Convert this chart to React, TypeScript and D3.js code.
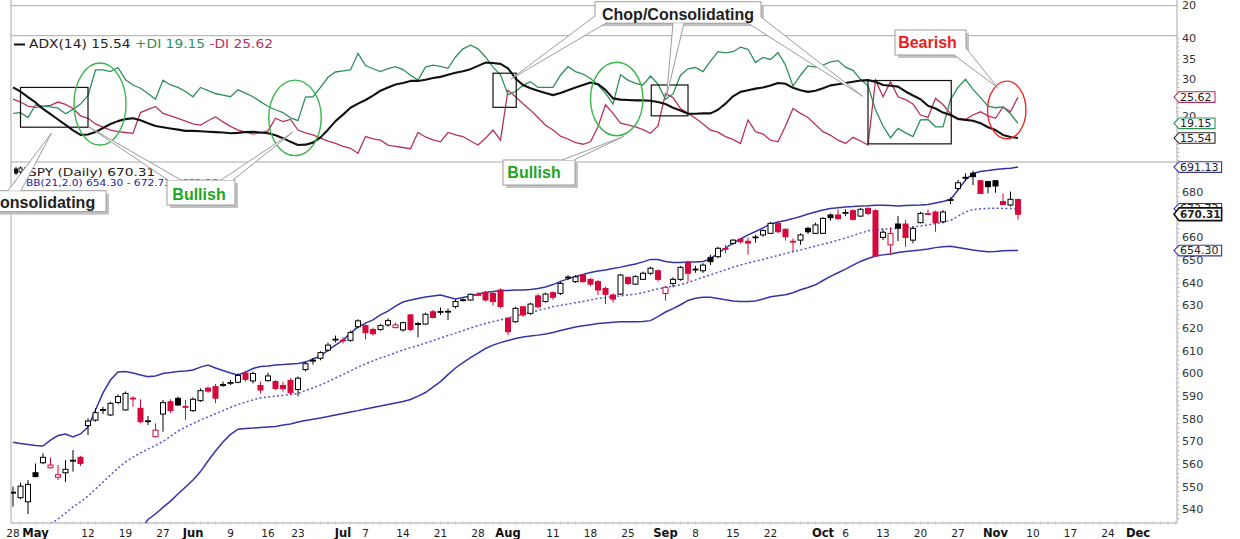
import React from 'react';
import * as d3 from 'd3';

const WIDTH = 1240;
const HEIGHT = 539;

const PLOT_LEFT = 11;
const PLOT_RIGHT = 1177;
const TOP_LINE = 5.7;
const ADX_TOP = 35.7;
const PANEL_SPLIT = 162;
const PRICE_BOTTOM = 523;

const RED = '#d4083a';
const BAND = '#3434a8';
const GRID = '#a8a8a8';
const PLUS_COL = '#2f8f5b';
const MINUS_COL = '#b8325c';

// SPY daily candles, Apr 28 - Nov 6 (as plotted, dividend adjusted)
const opens = [
  547.3, 545.3, 543.5, 556.3, 560.7, 558.5, 554.3, 556.3, 561.4, 563.1,
  577.1, 579.5, 583.8, 581.8, 587.3, 584.0, 589.0, 584.7, 579.0, 572.2,
  582.2, 587.6, 589.1, 585.3, 583.7, 588.1, 593.6, 594.3, 594.8, 595.8,
  596.2, 600.3, 596.8, 594.8, 596.9, 596.5, 594.8, 597.0, 593.0, 601.8,
  605.6, 606.8, 610.4, 614.9, 614.5, 614.7, 620.7, 621.2, 619.5, 619.5,
  621.5, 620.3, 619.3, 625.9, 621.7, 621.9, 627.3, 627.1, 627.3, 629.6,
  632.3, 632.5, 634.7, 635.9, 635.4, 636.9, 624.4, 622.9, 629.5, 626.6,
  634.3, 631.8, 635.7, 635.4, 642.3, 640.6, 643.5, 641.6, 640.6, 637.6,
  634.7, 635.1, 642.5, 639.5, 641.6, 644.3, 645.4, 635.4, 639.8, 641.6,
  648.9, 645.8, 645.4, 651.3, 651.6, 655.0, 657.5, 659.3, 658.4, 660.0,
  661.2, 661.9, 666.3, 663.7, 658.4, 658.9, 664.1, 661.9, 661.9, 670.0,
  670.0, 670.8, 671.9, 669.5, 672.9, 671.9, 660.1, 656.8, 666.0, 666.0,
  658.9, 666.6, 670.3, 671.3, 667.0, 676.4, 681.7, 686.2, 688.4, 685.1,
  684.7, 685.1, 675.9, 674.4, 676.8,
];
const highs = [
  550.2, 551.9, 553.1, 560.4, 564.9, 563.1, 559.7, 561.9, 566.3, 563.7,
  580.3, 584.7, 585.4, 587.6, 590.9, 592.1, 590.1, 588.7, 581.3, 578.1,
  588.4, 588.7, 589.9, 588.4, 589.6, 593.5, 594.4, 595.5, 596.5, 597.2,
  600.1, 601.3, 600.9, 596.5, 600.4, 597.2, 596.5, 598.0, 598.8, 605.3,
  606.8, 609.9, 613.7, 616.8, 616.1, 619.0, 624.0, 621.7, 620.3, 621.9,
  624.4, 622.5, 622.9, 626.3, 622.9, 626.9, 628.1, 629.2, 628.8, 632.8,
  633.2, 635.4, 636.0, 636.5, 636.0, 637.6, 625.1, 629.5, 629.8, 631.3,
  635.4, 635.7, 636.3, 640.6, 643.5, 643.5, 644.0, 642.0, 641.3, 638.4,
  635.4, 644.0, 642.8, 643.5, 645.0, 647.2, 646.0, 638.7, 642.5, 647.5,
  649.8, 647.5, 648.7, 652.4, 656.0, 656.8, 659.3, 659.7, 660.1, 661.2,
  663.7, 667.0, 667.0, 664.1, 659.7, 661.9, 664.8, 666.6, 669.0, 670.7,
  672.5, 672.5, 672.5, 673.0, 673.4, 672.5, 663.6, 664.5, 669.5, 667.8,
  664.8, 671.4, 672.4, 671.9, 672.2, 677.8, 685.4, 688.4, 689.5, 685.4,
  685.1, 685.4, 679.5, 680.3, 677.3,
];
const lows = [
  541.3, 544.6, 538.1, 554.3, 560.1, 558.2, 553.1, 552.3, 556.8, 559.3,
  572.9, 578.8, 582.2, 581.3, 586.6, 583.7, 585.4, 578.1, 577.3, 571.9,
  574.4, 582.8, 585.7, 579.6, 583.2, 587.6, 591.5, 587.0, 594.2, 595.0,
  595.7, 596.5, 595.7, 591.3, 596.5, 592.8, 592.1, 590.6, 590.0, 601.0,
  604.0, 605.9, 609.7, 613.8, 613.3, 614.1, 620.0, 615.1, 616.8, 618.9,
  620.7, 620.0, 618.5, 618.9, 616.0, 621.5, 624.4, 625.9, 623.7, 628.8,
  631.8, 632.2, 634.2, 631.8, 630.0, 628.8, 617.0, 622.5, 625.1, 625.9,
  628.8, 631.3, 632.5, 634.7, 641.3, 640.0, 640.1, 638.6, 634.7, 630.7,
  631.3, 634.7, 639.1, 639.1, 641.3, 643.5, 640.6, 632.2, 638.1, 641.0,
  640.6, 644.5, 644.5, 647.9, 650.9, 653.1, 656.8, 657.4, 652.5, 657.8,
  660.4, 661.6, 661.9, 658.7, 653.8, 656.8, 661.6, 661.6, 661.6, 667.5,
  667.8, 669.5, 667.5, 669.2, 670.0, 651.6, 658.9, 652.5, 658.5, 656.0,
  657.5, 666.3, 670.2, 662.6, 666.3, 674.8, 681.0, 685.1, 683.2, 679.2,
  679.5, 679.8, 674.4, 673.7, 667.9,
];
const closes = [
  547.7, 550.4, 551.2, 554.6, 563.1, 559.7, 555.4, 557.8, 561.8, 560.4,
  579.1, 582.8, 584.2, 586.9, 589.9, 591.3, 589.2, 578.8, 579.2, 575.1,
  587.2, 583.7, 586.2, 585.5, 588.7, 592.5, 592.3, 589.2, 595.2, 596.1,
  599.2, 597.5, 600.1, 592.8, 599.0, 593.5, 593.4, 591.6, 598.0, 604.4,
  605.9, 609.3, 612.6, 615.2, 614.8, 618.1, 623.3, 618.1, 617.6, 621.2,
  623.4, 621.5, 622.5, 619.5, 622.1, 626.2, 624.8, 627.4, 627.5, 631.8,
  632.6, 635.0, 634.9, 632.5, 631.8, 629.6, 618.5, 628.8, 625.9, 630.7,
  629.5, 635.1, 633.7, 639.8, 642.6, 642.7, 640.6, 639.5, 636.9, 635.0,
  632.9, 643.5, 639.8, 642.8, 644.3, 646.5, 641.6, 638.1, 641.6, 646.9,
  644.3, 646.1, 647.9, 649.4, 655.3, 655.2, 658.9, 658.2, 657.6, 660.3,
  663.1, 666.3, 662.6, 660.4, 658.1, 661.2, 662.6, 665.6, 668.5, 668.8,
  668.4, 671.1, 668.1, 672.5, 670.7, 651.9, 662.4, 661.9, 664.2, 660.1,
  664.1, 670.7, 670.6, 666.6, 671.3, 676.8, 684.2, 686.6, 686.9, 679.5,
  682.5, 682.8, 674.6, 676.9, 670.31,
];
const prevClose = 547.0;

// Bollinger Bands (21, 2.0)
const bbUpper = [
  569.7, 569.2, 568.8, 568.3, 568.1, 570.7, 572.7, 573.4, 572.1, 573.4,
  576.5, 584.0, 591.5, 597.2, 600.7, 601.0, 600.3, 599.4, 598.7, 599.0,
  600.1, 600.5, 601.0, 601.2, 601.6, 602.9, 603.8, 602.5, 601.4, 600.3,
  599.4, 600.7, 602.3, 603.2, 603.4, 603.8, 604.0, 604.3, 604.5, 605.1,
  606.5, 607.8, 610.4, 612.6, 614.8, 617.9, 620.6, 622.3, 623.7, 625.9,
  627.6, 629.8, 631.6, 632.5, 633.2, 633.8, 634.3, 634.7, 633.8, 632.9,
  633.6, 634.3, 635.1, 635.8, 636.2, 636.7, 636.7, 636.9, 636.9, 637.1,
  637.6, 638.2, 639.3, 640.7, 641.8, 642.9, 643.7, 644.6, 645.3, 645.7,
  646.4, 647.0, 647.7, 648.4, 649.3, 650.4, 650.4, 649.5, 649.0, 649.0,
  649.3, 649.3, 649.5, 650.6, 653.2, 655.4, 657.6, 659.4, 661.2, 662.7,
  664.3, 666.0, 666.9, 667.6, 668.4, 669.3, 670.4, 671.3, 672.2, 672.9,
  673.2, 673.5, 673.7, 674.0, 674.1, 674.3, 674.3, 674.2, 674.0, 674.2,
  674.3, 674.4, 674.6, 675.3, 675.9, 676.8, 681.0, 685.4, 688.3, 689.2,
  689.6, 690.1, 690.4, 690.6, 691.13,
];
const bbMid = [
  520.4, 523.1, 525.7, 528.4, 531.0, 533.7, 535.9, 538.5, 541.2, 543.4,
  546.0, 549.1, 552.2, 555.3, 558.4, 561.0, 563.2, 565.0, 566.8, 568.3,
  570.1, 572.3, 574.7, 576.5, 578.0, 579.6, 580.9, 582.4, 583.7, 585.1,
  586.4, 587.5, 588.4, 589.3, 589.7, 590.1, 590.4, 590.8, 591.2, 592.6,
  593.7, 595.0, 596.5, 598.1, 599.6, 601.2, 602.9, 604.3, 605.6, 606.9,
  608.0, 609.3, 610.4, 611.5, 612.4, 613.5, 614.6, 615.7, 616.8, 617.9,
  619.0, 620.1, 621.2, 622.1, 623.0, 623.7, 624.6, 625.4, 626.3, 627.0,
  627.9, 628.7, 629.6, 630.1, 630.7, 631.3, 631.8, 632.5, 633.2, 633.6,
  633.9, 634.3, 634.7, 635.1, 635.7, 636.6, 637.4, 638.0, 638.6, 639.2,
  640.2, 641.3, 642.5, 643.6, 644.7, 645.8, 647.0, 647.9, 648.8, 649.6,
  650.4, 651.3, 652.1, 653.0, 653.8, 654.6, 655.4, 656.3, 657.1, 657.9,
  658.9, 659.9, 660.9, 662.0, 663.0, 663.5, 663.8, 663.9, 664.1, 664.4,
  664.8, 665.1, 665.6, 666.2, 666.8, 667.6, 669.5, 671.3, 672.4, 672.7,
  672.9, 673.0, 672.9, 672.8, 672.73,
];
const bbLower = [
  471.0, 477.0, 483.0, 488.5, 494.0, 497.0, 499.0, 503.5, 510.0, 513.5,
  515.5, 514.0, 513.0, 513.5, 516.0, 521.0, 526.0, 531.0,
  535.7, 538.1, 541.0, 543.8, 546.9, 550.0, 553.1, 556.8, 561.5, 565.9,
  569.9, 573.2, 575.5, 575.8, 576.0, 576.3, 576.5, 576.7, 577.4, 577.8,
  578.7, 579.3, 579.9, 580.4, 581.1, 581.8, 582.4, 583.1, 583.7, 584.4,
  585.1, 585.7, 586.4, 587.1, 587.7, 588.6, 590.1, 591.7, 594.1, 596.5,
  599.6, 602.5, 604.9, 607.1, 609.1, 611.1, 612.6, 613.7, 614.6, 615.5,
  616.2, 616.6, 617.0, 617.5, 618.2, 619.0, 619.8, 620.6, 621.1, 621.6,
  622.1, 622.4, 622.7, 622.9, 622.9, 622.9, 623.0, 623.4, 625.2, 627.2,
  628.7, 630.4, 632.3, 633.3, 633.7, 633.7, 633.2, 632.6, 632.1, 631.8,
  631.8, 632.1, 632.9, 633.9, 634.4, 634.8, 635.7, 637.0, 638.0, 639.2,
  641.1, 642.9, 644.5, 646.1, 647.9, 649.5, 650.8, 651.9, 652.4, 652.8,
  653.4, 653.9, 654.2, 654.5, 655.0, 655.6, 656.0, 656.2, 655.7, 655.1,
  654.5, 654.1, 653.8, 653.9, 654.2, 654.3, 654.30,
];

// ADX(14) with +DI / -DI
const adx = [
  28.0, 27.0, 25.6, 24.3, 22.7, 21.4, 20.1, 18.8, 17.4, 16.3,
  16.4, 17.0, 18.0, 19.0, 19.7, 20.2, 20.4, 19.9, 19.2, 18.5,
  18.2, 17.9, 17.6, 17.3, 17.3, 17.2, 17.1, 17.0, 16.9, 16.7,
  16.8, 17.0, 17.1, 16.9, 16.7, 16.2, 15.5, 14.6, 13.8, 13.9,
  14.4, 15.7, 17.6, 19.7, 21.3, 23.0, 24.0, 24.9, 26.0, 27.2,
  28.0, 28.7, 29.1, 29.6, 29.6, 29.9, 30.3, 30.6, 31.1, 31.6,
  32.0, 32.5, 33.3, 34.1, 34.0, 33.8, 32.7, 30.2, 28.6, 27.8,
  27.2, 26.6, 26.1, 26.6, 27.3, 28.0, 28.6, 29.2, 28.8, 27.4,
  25.3, 25.0, 24.9, 24.8, 24.8, 24.7, 24.4, 23.9, 23.0, 22.3,
  21.5, 21.5, 21.6, 21.6, 22.5, 24.0, 25.8, 26.9, 27.3, 27.7,
  28.0, 28.5, 29.1, 28.9, 27.9, 27.3, 26.9, 27.2, 27.8, 28.5,
  28.8, 29.1, 29.4, 29.7, 29.8, 29.4, 28.6, 28.4, 28.2, 27.0,
  26.0, 25.1, 23.5, 22.8, 21.8, 21.2, 20.3, 20.0, 19.8, 19.2,
  18.2, 17.5, 16.3, 15.8, 15.54,
];
const plusDI = [
  21.6, 21.8, 20.6, 23.7, 23.4, 23.2, 22.9, 21.5, 22.6, 23.9,
  26.0, 32.3, 32.3, 31.9, 32.9, 29.9, 28.6, 27.8, 26.5, 25.1,
  29.8, 28.6, 28.0, 27.0, 25.7, 28.0, 27.2, 26.5, 26.1, 25.7,
  27.4, 26.6, 25.7, 24.5, 23.3, 22.5, 21.8, 20.5, 19.8, 25.6,
  25.7, 28.0, 30.5, 31.8, 32.1, 32.3, 36.4, 33.4, 32.6, 31.9,
  32.6, 33.1, 32.4, 31.0, 29.8, 33.0, 33.5, 33.2, 32.7, 35.5,
  37.5, 38.4, 37.5, 35.5, 33.0, 31.1, 26.2, 27.0, 28.5, 29.4,
  28.0, 28.0, 28.0, 31.0, 33.1, 31.9, 31.3, 30.2, 28.6, 26.6,
  23.9, 31.1, 29.8, 29.0, 28.6, 30.8, 28.8, 25.1, 26.4, 31.0,
  32.6, 32.9, 31.9, 34.5, 36.8, 36.5, 36.8, 37.9, 37.4, 34.1,
  35.4, 34.9, 36.6, 33.5, 28.3, 31.0, 33.3, 33.0, 33.5, 34.3,
  34.6, 33.0, 32.2, 30.0, 28.4, 22.5, 18.5, 15.6, 17.9, 16.8,
  15.9, 20.0, 20.1, 18.3, 18.3, 25.0, 28.0, 30.0, 27.5, 25.5,
  23.4, 23.0, 23.2, 21.5, 19.15,
];
const minusDI = [
  25.1, 24.4, 23.4, 23.1, 23.3, 23.6, 24.4, 23.8, 22.8, 21.0,
  20.4, 19.0, 18.2, 17.5, 17.1, 16.9, 16.7, 21.8, 22.6, 23.3,
  21.6, 21.0, 20.4, 19.7, 19.0, 18.7, 19.8, 20.8, 19.5, 18.4,
  17.5, 17.0, 16.5, 16.8, 17.3, 20.4, 19.6, 20.1, 17.5, 16.8,
  16.3, 15.5, 14.8, 14.2, 13.5, 13.0, 11.8, 15.9, 15.3, 15.0,
  13.8, 13.5, 13.2, 12.9, 16.9, 15.8, 15.1, 14.6, 16.9, 16.3,
  15.9, 14.8, 13.8, 15.5, 17.5, 15.0, 27.3, 25.7, 24.0, 22.4,
  20.6, 18.7, 17.5, 16.0, 15.3, 14.4, 14.0, 14.6, 18.3, 23.7,
  21.6, 19.2, 18.8, 18.3, 17.6, 16.7, 18.5, 26.5, 25.5, 22.8,
  21.6, 20.4, 19.0, 17.5, 17.0, 15.9, 15.2, 14.2, 20.0, 17.1,
  16.5, 15.0, 14.6, 18.5, 22.8, 21.6, 20.6, 18.8, 17.1, 16.2,
  15.0, 14.2, 15.7, 14.8, 13.8, 29.8, 25.7, 29.4, 25.7, 25.0,
  23.9, 21.2, 20.6, 25.3, 23.8, 21.5, 20.1, 20.1, 21.2, 22.0,
  21.0, 20.4, 23.2, 22.0, 25.62,
];

// x-axis labels (trading-day index -> label)
const dayTicks = [
  { i: 0, label: '28' }, { i: 10, label: '12' }, { i: 15, label: '19' }, { i: 20, label: '27' },
  { i: 29, label: '9' }, { i: 34, label: '16' }, { i: 38, label: '23' }, { i: 47, label: '7' },
  { i: 52, label: '14' }, { i: 57, label: '21' }, { i: 62, label: '28' }, { i: 72, label: '11' },
  { i: 77, label: '18' }, { i: 82, label: '25' }, { i: 91, label: '8' }, { i: 96, label: '15' },
  { i: 101, label: '22' }, { i: 111, label: '6' }, { i: 116, label: '13' }, { i: 121, label: '20' },
  { i: 126, label: '27' }, { i: 136, label: '10' }, { i: 141, label: '17' }, { i: 146, label: '24' },
];
const monthTicks = [
  { i: 3, label: 'May' }, { i: 24, label: 'Jun' }, { i: 44, label: 'Jul' }, { i: 66, label: 'Aug' },
  { i: 87, label: 'Sep' }, { i: 108, label: 'Oct' }, { i: 131, label: 'Nov' }, { i: 150, label: 'Dec' },
];
// labels left visible beside the value tags
const priceTicks = [540, 550, 560, 570, 580, 590, 600, 610, 620, 630, 640, 650, 660, 680];
const adxTicks = [20, 30, 35, 40];

// annotations drawn on the ADX panel (day index / indicator value)
const boxes = [
  { i0: 1, i1: 10, v0: 28.0, v1: 18.2 },
  { i0: 64, i1: 67.1, v0: 31.5, v1: 23.1 },
  { i0: 85.1, i1: 90, v0: 28.6, v1: 21.0 },
  { i0: 114, i1: 125.1, v0: 29.7, v1: 14.1 },
];
const rings = [
  { i: 11.6, v: 23.9, ri: 3.47, rv: 10.1, color: '#3cb44a' },
  { i: 37.6, v: 20.5, ri: 3.5, rv: 9.3, color: '#3cb44a' },
  { i: 80.5, v: 25.15, ri: 3.5, rv: 9.06, color: '#3cb44a' },
  { i: 132.5, v: 22.44, ri: 2.56, rv: 7.1, color: '#ee2b2b' },
];

type Pt = [number, number];
const callouts: {
  text: string; color: string; box: [number, number, number, number];
  tx: number; ty: number; anchor: string; wedges: [Pt, Pt, Pt][];
}[] = [
  { text: 'Consolidating', color: '#222', box: [-20, 190.7, 126, 21], tx: -11.5, ty: 208.3, anchor: 'start',
    wedges: [[[8, 190.7], [21, 190.7], [51.5, 133]]] },
  { text: 'Bullish', color: '#1fa51f', box: [167, 180, 68, 25], tx: 199, ty: 199.5, anchor: 'middle',
    wedges: [[[168, 180], [181, 180], [89, 127]], [[221, 180], [233, 180], [293, 132]]] },
  { text: 'Bullish', color: '#1fa51f', box: [503, 160, 72, 25], tx: 534, ty: 178.3, anchor: 'middle',
    wedges: [[[562, 160], [574, 160], [623.5, 136.5]]] },
  { text: 'Chop/Consolidating', color: '#222', box: [595, 1.7, 166, 21.5], tx: 678, ty: 20.3, anchor: 'middle',
    wedges: [[[595, 16], [606, 23.2], [511, 79]], [[673, 23.2], [684, 23.2], [666.5, 96.5]], [[748, 23.2], [761, 17], [863, 96.5]]] },
  { text: 'Bearish', color: '#ee1c1c', box: [895, 30, 71, 25], tx: 927.5, ty: 48.3, anchor: 'middle',
    wedges: [[[954, 55], [966, 48], [997.5, 87.5]]] },
];

const SText: React.FC<{ x: number; y: number; sx?: number; children: React.ReactNode; [k: string]: any }> = ({
  x, y, sx = 1.12, children, ...rest
}) => (
  <text transform={`translate(${x},${y}) scale(${sx},1)`} {...rest}>{children}</text>
);

const Tag: React.FC<{ y: number; label: string; color: string; bold?: boolean }> = ({ y, label, color, bold }) => {
  const x0 = 1174;
  const h = bold ? 6.4 : 5.3;
  const w = 8 + label.length * 6.6;
  return (
    <g>
      <path
        d={`M${x0},${y} L${x0 + 5},${y - h} H${x0 + w} V${y + h} H${x0 + 5} Z`}
        fill="#fff"
        stroke={color}
        strokeWidth={bold ? 1.6 : 1.1}
      />
      <SText
        x={x0 + 6}
        y={y + 3.7}
        sx={bold ? 1.0 : 1.1}
        fontSize={bold ? 10.5 : 10}
        fontWeight={bold ? 'bold' : 'normal'}
        fill="#222"
      >
        {label}
      </SText>
    </g>
  );
};

export default function App() {
  const x = d3.scaleLinear().domain([0, 150]).range([13, 1138]);
  const yP = d3.scaleLinear().domain([540, 680]).range([509.7, 192.3]);
  const yA = d3.scaleLinear().domain([20, 40]).range([119.9, 38.7]);

  const lineP = d3.line<number>().x((_, i) => x(i)).y((d) => yP(d));
  const lineA = d3.line<number>().x((_, i) => x(i)).y((d) => yA(d));

  const last = closes.length - 1;
  const days = d3.range(0, 156);
  const priceMinor = d3.range(536, 694, 2);
  const adxMinor = d3.range(10, 41, 1);

  return (
    <svg
      width={WIDTH}
      height={HEIGHT}
      style={{ position: 'absolute', left: 0, top: 0, background: '#fff' }}
      fontFamily="'DejaVu Sans', Verdana, sans-serif"
    >
      <defs>
        <clipPath id="clipAdx">
          <rect x={PLOT_LEFT} y={ADX_TOP} width={PLOT_RIGHT - PLOT_LEFT} height={PANEL_SPLIT - ADX_TOP} />
        </clipPath>
        <clipPath id="clipPrice">
          <rect x={PLOT_LEFT} y={PANEL_SPLIT} width={PLOT_RIGHT - PLOT_LEFT} height={PRICE_BOTTOM - PANEL_SPLIT} />
        </clipPath>
      </defs>
      <rect x={0} y={0} width={WIDTH} height={HEIGHT} fill="#fff" />

      {/* frame */}
      <line x1={PLOT_LEFT} x2={PLOT_RIGHT} y1={TOP_LINE} y2={TOP_LINE} stroke={GRID} />
      <line x1={PLOT_LEFT} x2={PLOT_RIGHT} y1={ADX_TOP} y2={ADX_TOP} stroke={GRID} />
      <line x1={PLOT_LEFT} x2={PLOT_RIGHT} y1={PANEL_SPLIT} y2={PANEL_SPLIT} stroke={GRID} />
      <line x1={PLOT_LEFT} x2={PLOT_RIGHT} y1={PRICE_BOTTOM} y2={PRICE_BOTTOM} stroke={GRID} />
      <line x1={PLOT_LEFT} x2={PLOT_LEFT} y1={0} y2={PRICE_BOTTOM} stroke={GRID} />
      <line x1={PLOT_RIGHT} x2={PLOT_RIGHT} y1={0} y2={PRICE_BOTTOM} stroke={GRID} />

      {/* minor ticks */}
      {days.map((d) => (
        <line key={`dt${d}`} x1={x(d)} x2={x(d)} y1={PRICE_BOTTOM - 1.5} y2={PRICE_BOTTOM + 1.5} stroke="#c4c4c4" />
      ))}
      {priceMinor.map((v) => (
        <line key={`pm${v}`} x1={PLOT_RIGHT} x2={PLOT_RIGHT + 2.5} y1={yP(v)} y2={yP(v)} stroke="#b8b8b8" />
      ))}
      {adxMinor.map((v) => (
        <line key={`am${v}`} x1={PLOT_RIGHT} x2={PLOT_RIGHT + 2.5} y1={yA(v)} y2={yA(v)} stroke="#b8b8b8" />
      ))}

      {/* right axis labels */}
      <SText x={1182} y={TOP_LINE + 3.6} fontSize={10} fill="#333">20</SText>
      {adxTicks.map((v) => (
        <SText key={`al${v}`} x={1182} y={yA(v) + (v === 20 ? 0 : 3.6)} fontSize={10} fill="#333">{v}</SText>
      ))}
      {priceTicks.map((v) => (
        <SText key={`pl${v}`} x={1182} y={yP(v) + 3.6} fontSize={10} fill="#333">{v}</SText>
      ))}

      {/* x-axis labels */}
      {dayTicks.map((t) => (
        <text key={`d${t.i}`} x={x(t.i)} y={536.5} fontSize={10.5} textAnchor="middle" fill="#222">{t.label}</text>
      ))}
      {monthTicks.map((t) => (
        <text key={`m${t.i}`} x={x(t.i)} y={536.5} fontSize={11.5} fontWeight="bold" textAnchor="middle" fill="#111">
          {t.label}
        </text>
      ))}

      {/* ADX panel */}
      <g clipPath="url(#clipAdx)" fill="none">
        <path d={lineA(minusDI) || ''} stroke={MINUS_COL} strokeWidth={1.3} />
        <path d={lineA(plusDI) || ''} stroke={PLUS_COL} strokeWidth={1.3} />
        <path d={lineA(adx) || ''} stroke="#111" strokeWidth={2.1} strokeLinejoin="round" />
      </g>

      {/* price panel */}
      <g clipPath="url(#clipPrice)">
        <path d={lineP(bbUpper) || ''} fill="none" stroke={BAND} strokeWidth={1.5} />
        <path d={lineP(bbLower) || ''} fill="none" stroke={BAND} strokeWidth={1.5} />
        <path d={lineP(bbMid) || ''} fill="none" stroke="#5656cc" strokeWidth={1.5} strokeDasharray="2,2.4" />
        {closes.map((c, i) => {
          const o = opens[i];
          const pc = i === 0 ? prevClose : closes[i - 1];
          const col = c >= pc ? '#000' : RED;
          const hollow = c >= o;
          const cx = x(i);
          const top = yP(Math.max(o, c));
          const bh = Math.max(yP(Math.min(o, c)) - top, 0.8);
          return (
            <g key={`c${i}`}>
              <line x1={cx} x2={cx} y1={yP(highs[i])} y2={yP(lows[i])} stroke={col} strokeWidth={1} />
              <rect x={cx - 2.5} y={top} width={5} height={bh} fill={hollow ? '#fff' : col} stroke={col} strokeWidth={1} />
            </g>
          );
        })}
      </g>

      {/* legends */}
      <line x1={14} x2={25} y1={44.5} y2={44.5} stroke="#111" strokeWidth={2} />
      <SText x={29} y={48} sx={1.2} fontSize={11.5} fill="#222">
        {`ADX(14) ${adx[last].toFixed(2)} `}
        <tspan fill={PLUS_COL}>{`+DI ${plusDI[last].toFixed(2)} `}</tspan>
        <tspan fill={MINUS_COL}>{`-DI ${minusDI[last].toFixed(2)}`}</tspan>
      </SText>
      <g stroke="#111" strokeWidth={1}>
        <line x1={16} x2={16} y1={167} y2={175} />
        <rect x={14.5} y={169} width={3} height={4} fill="#111" />
        <line x1={20.5} x2={20.5} y1={166.5} y2={174} />
        <rect x={19} y={168} width={3} height={4} fill="#fff" />
        <line x1={25} x2={25} y1={167} y2={175} />
        <rect x={23.5} y={169.5} width={3} height={3.5} fill="#111" />
      </g>
      <SText x={28} y={175.5} sx={1.25} fontSize={11} fill="#222">
        {`SPY (Daily) ${closes[last].toFixed(2)}`}
      </SText>
      <line x1={14} x2={21} y1={182} y2={182} stroke={BAND} strokeWidth={1.5} />
      <SText x={26} y={185.5} sx={1.12} fontSize={9.5} fill="#2323a0">
        {`BB(21,2.0) ${bbLower[last].toFixed(2)} - ${bbMid[last].toFixed(2)} - ${bbUpper[last].toFixed(2)}`}
      </SText>

      {/* value tags */}
      <Tag y={yA(minusDI[last])} label={minusDI[last].toFixed(2)} color={MINUS_COL} />
      <Tag y={yA(plusDI[last])} label={plusDI[last].toFixed(2)} color={PLUS_COL} />
      <Tag y={yA(adx[last])} label={adx[last].toFixed(2)} color="#222" />
      <Tag y={yP(bbUpper[last])} label={bbUpper[last].toFixed(2)} color={BAND} />
      <Tag y={yP(bbMid[last])} label={bbMid[last].toFixed(2)} color={BAND} />
      <Tag y={yP(bbLower[last])} label={bbLower[last].toFixed(2)} color={BAND} />
      <Tag y={yP(closes[last])} label={closes[last].toFixed(2)} color="#111" bold />

      {/* chart annotations */}
      {boxes.map((b, k) => (
        <rect
          key={`bx${k}`}
          x={x(b.i0)}
          y={yA(b.v0)}
          width={x(b.i1) - x(b.i0)}
          height={yA(b.v1) - yA(b.v0)}
          fill="none"
          stroke="#111"
          strokeWidth={1.2}
        />
      ))}
      {rings.map((r, k) => (
        <ellipse
          key={`rg${k}`}
          cx={x(r.i)}
          cy={yA(r.v)}
          rx={x(r.ri) - x(0)}
          ry={yA(0) - yA(r.rv)}
          fill="none"
          stroke={r.color}
          strokeWidth={1.4}
        />
      ))}
      {callouts.map((c, k) => {
        const [bx, by, bw, bh] = c.box;
        return (
          <g key={`co${k}`}>
            <rect x={bx + 3} y={by + 3} width={bw} height={bh} fill="#c2c2c2" />
            <rect x={bx} y={by} width={bw} height={bh} fill="#fff" stroke="#9c9c9c" />
            {c.wedges.map((w, j) => (
              <g key={j}>
                <polygon points={`${w[0]} ${w[2]} ${w[1]}`} fill="#fff" />
                <line x1={w[0][0]} y1={w[0][1]} x2={w[2][0]} y2={w[2][1]} stroke="#9c9c9c" />
                <line x1={w[1][0]} y1={w[1][1]} x2={w[2][0]} y2={w[2][1]} stroke="#9c9c9c" />
              </g>
            ))}
            <text
              x={c.tx}
              y={c.ty}
              fontFamily="'Liberation Sans', Arial, sans-serif"
              fontSize={16}
              fontWeight="bold"
              textAnchor={c.anchor as any}
              fill={c.color}
            >
              {c.text}
            </text>
          </g>
        );
      })}
    </svg>
  );
}
